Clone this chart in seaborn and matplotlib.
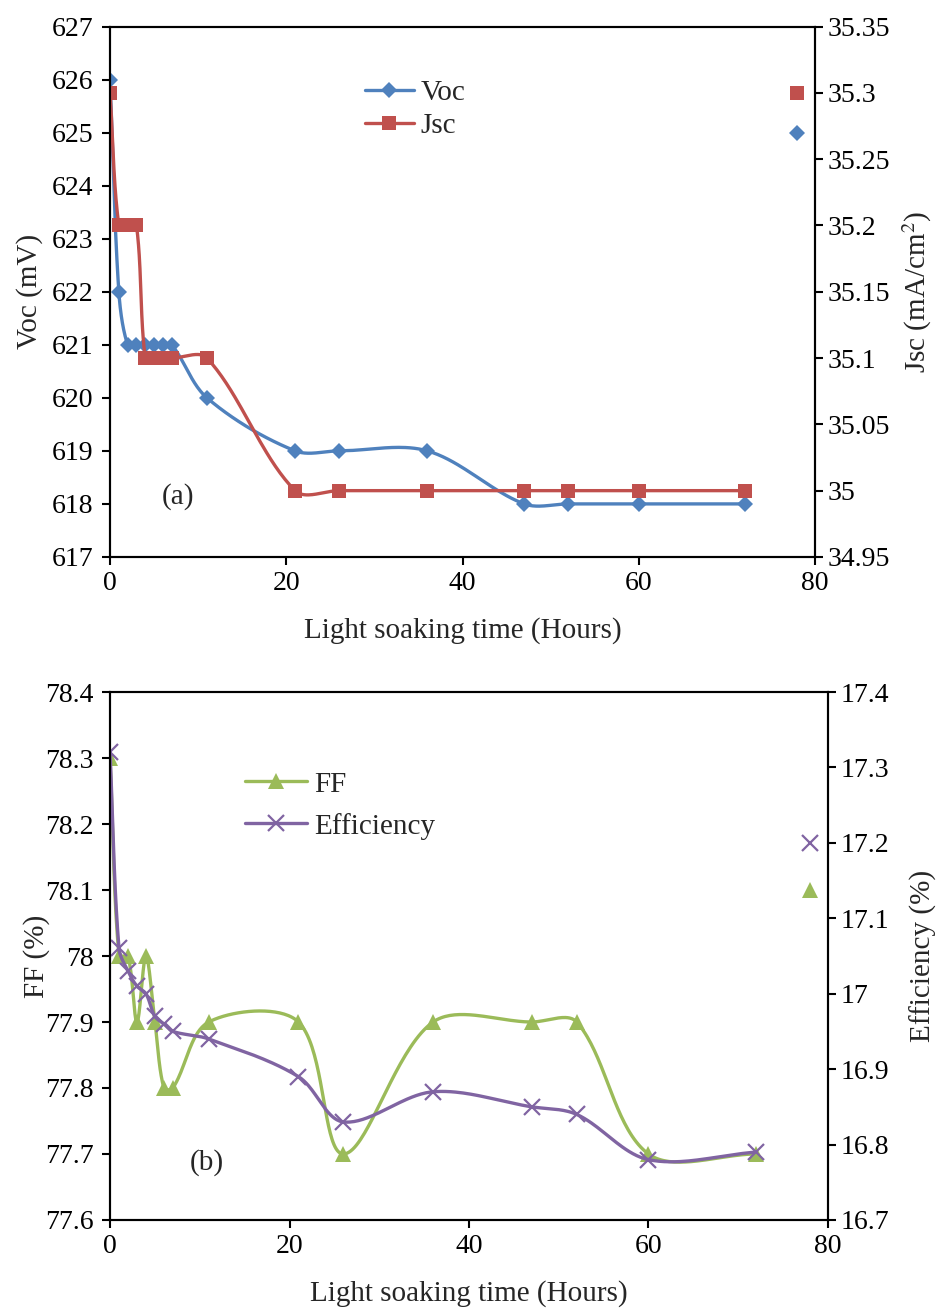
import numpy as np
import seaborn as sns
import matplotlib.pyplot as plt
from matplotlib.lines import Line2D
from matplotlib.ticker import FuncFormatter, MultipleLocator

# light soaking time (hours)
hours = [0, 1, 2, 3, 4, 5, 6, 7, 11, 21, 26, 36, 47, 52, 60, 72]

# panel (a)
voc = [626, 622, 621, 621, 621, 621, 621, 621, 620, 619, 619, 619, 618, 618, 618, 618]
jsc = [35.3, 35.2, 35.2, 35.2, 35.1, 35.1, 35.1, 35.1, 35.1, 35.0, 35.0, 35.0, 35.0, 35.0, 35.0, 35.0]

# panel (b)
ff = [78.3, 78.0, 78.0, 77.9, 78.0, 77.9, 77.8, 77.8, 77.9, 77.9, 77.7, 77.9, 77.9, 77.9, 77.7, 77.7]
eff = [17.32, 17.06, 17.03, 17.01, 17.0, 16.97, 16.96, 16.95, 16.94, 16.89, 16.83, 16.87, 16.85, 16.84, 16.78, 16.79]

# lone points drawn without a line
extra_hour = [78]
extra_voc = [625]
extra_jsc = [35.3]
extra_ff = [78.1]
extra_eff = [17.2]

BLUE, RED, GREEN, PURPLE = "#4F81BD", "#C0504D", "#9BBB59", "#8064A2"

sns.set_style("ticks")
plt.rcParams["font.family"] = ["Liberation Serif", "DejaVu Serif"]
plt.rcParams["mathtext.fontset"] = "stix"

TICK_FS, LABEL_FS, LEG_FS = 20, 21, 21


def smooth(ax, x, y, n=40):
    """Excel-like smoothed line, built in screen space (segment-length weighted tangents)."""
    p = ax.transData.transform(np.column_stack([x, y]).astype(float))
    p = np.vstack([p[:1], p, p[-1:]])
    t = np.linspace(0, 1, n)[:, None]
    out = []
    for i in range(1, len(p) - 2):
        p0, p1, p2, p3 = p[i - 1], p[i], p[i + 1], p[i + 2]
        d01 = np.hypot(*(p1 - p0))
        d12 = np.hypot(*(p2 - p1))
        d23 = np.hypot(*(p3 - p2))
        c1 = p1 + (p2 - p0) * d12 / (3 * (d01 + d12)) if d01 + d12 > 0 else p1
        c2 = p2 - (p3 - p1) * d12 / (3 * (d12 + d23)) if d12 + d23 > 0 else p2
        seg = ((1 - t) ** 3) * p1 + 3 * ((1 - t) ** 2) * t * c1 + 3 * (1 - t) * t ** 2 * c2 + t ** 3 * p2
        out.append(seg if i == 1 else seg[1:])
    s = ax.transData.inverted().transform(np.vstack(out))
    return s[:, 0], s[:, 1]


def series(ax, x, y, color, marker, ms, mew=0, ex=None, ey=None):
    sx, sy = smooth(ax, x, y)
    sns.lineplot(x=sx, y=sy, sort=False, estimator=None, color=color, lw=2.4, ax=ax)
    mk = dict(ls="", marker=marker, ms=ms, color=color, mec=color, mew=mew)
    ax.plot(x, y, **mk)
    if ex is not None:
        ax.plot(ex, ey, **mk)
    return Line2D([], [], color=color, lw=2.4, marker=marker, ms=ms, mec=color, mew=mew)


fmt = FuncFormatter(lambda v, _: f"{round(v, 3):g}")


def style(ax, ax2, ylim, ystep, y2lim, y2step):
    ax.set_xlim(0, 80)
    ax.xaxis.set_major_locator(MultipleLocator(20))
    ax.set_ylim(*ylim)
    ax.yaxis.set_major_locator(MultipleLocator(ystep))
    ax2.set_ylim(*y2lim)
    ax2.yaxis.set_major_locator(MultipleLocator(y2step))
    for a in (ax, ax2):
        a.yaxis.set_major_formatter(fmt)
        a.tick_params(direction="out", length=6, width=1.5, labelsize=TICK_FS, colors="black")
        for sp in a.spines.values():
            sp.set_visible(True)
            sp.set_linewidth(1.5)
            sp.set_color("black")
    ax.tick_params(axis="x", pad=4)
    ax.tick_params(axis="y", pad=6)
    ax2.tick_params(axis="y", pad=3)
    ax.xaxis.set_ticks_position("bottom")


fig = plt.figure(figsize=(9.38, 13.08), dpi=100)

# ---- panel (a) ----
ax_a = fig.add_axes([0.1173, 0.5742, 0.7516, 0.4055])
ax_a2 = ax_a.twinx()
style(ax_a, ax_a2, (617, 627), 1, (34.95, 35.35), 0.05)
h_voc = series(ax_a, hours, voc, BLUE, "D", 8.5, ex=extra_hour, ey=extra_voc)
h_jsc = series(ax_a2, hours, jsc, RED, "s", 10.5, ex=extra_hour, ey=extra_jsc)
ax_a.set_xlabel("Light soaking time (Hours)", fontsize=LABEL_FS, labelpad=15)
ax_a.set_ylabel("Voc (mV)", fontsize=LABEL_FS)
ax_a.yaxis.set_label_coords(-0.095, 0.5)
ax_a2.set_ylabel("Jsc (mA/cm$^{2}$)", fontsize=LABEL_FS)
ax_a2.yaxis.set_label_coords(1.122, 0.5)
ax_a2.legend([h_voc, h_jsc], ["Voc", "Jsc"], loc="upper left", bbox_to_anchor=(0.325, 0.95),
             frameon=False, fontsize=LEG_FS, handlelength=1.65, handletextpad=0.25, labelspacing=0.25)
ax_a.text(0.096, 0.113, "(a)", transform=ax_a.transAxes, fontsize=LABEL_FS, ha="center", va="center")

# ---- panel (b) ----
ax_b = fig.add_axes([0.1173, 0.0673, 0.7654, 0.4036])
ax_b2 = ax_b.twinx()
style(ax_b, ax_b2, (77.6, 78.4), 0.1, (16.7, 17.4), 0.1)
h_ff = series(ax_b, hours, ff, GREEN, "^", 11, ex=extra_hour, ey=extra_ff)
h_eff = series(ax_b2, hours, eff, PURPLE, "x", 11, mew=1.6, ex=extra_hour, ey=extra_eff)
ax_b.set_xlabel("Light soaking time (Hours)", fontsize=LABEL_FS, labelpad=15)
ax_b.set_ylabel("FF (%)", fontsize=LABEL_FS)
ax_b.yaxis.set_label_coords(-0.0836, 0.5)
ax_b2.set_ylabel("Efficiency (%)", fontsize=LABEL_FS)
ax_b2.yaxis.set_label_coords(1.114, 0.5)
ax_b2.legend([h_ff, h_eff], ["FF", "Efficiency"], loc="upper left", bbox_to_anchor=(0.152, 0.90),
             frameon=False, fontsize=LEG_FS, handlelength=2.1, handletextpad=0.25, labelspacing=0.52)
ax_b.text(0.135, 0.108, "(b)", transform=ax_b.transAxes, fontsize=LABEL_FS, ha="center", va="center")

fig.savefig("out.png", dpi=100)
